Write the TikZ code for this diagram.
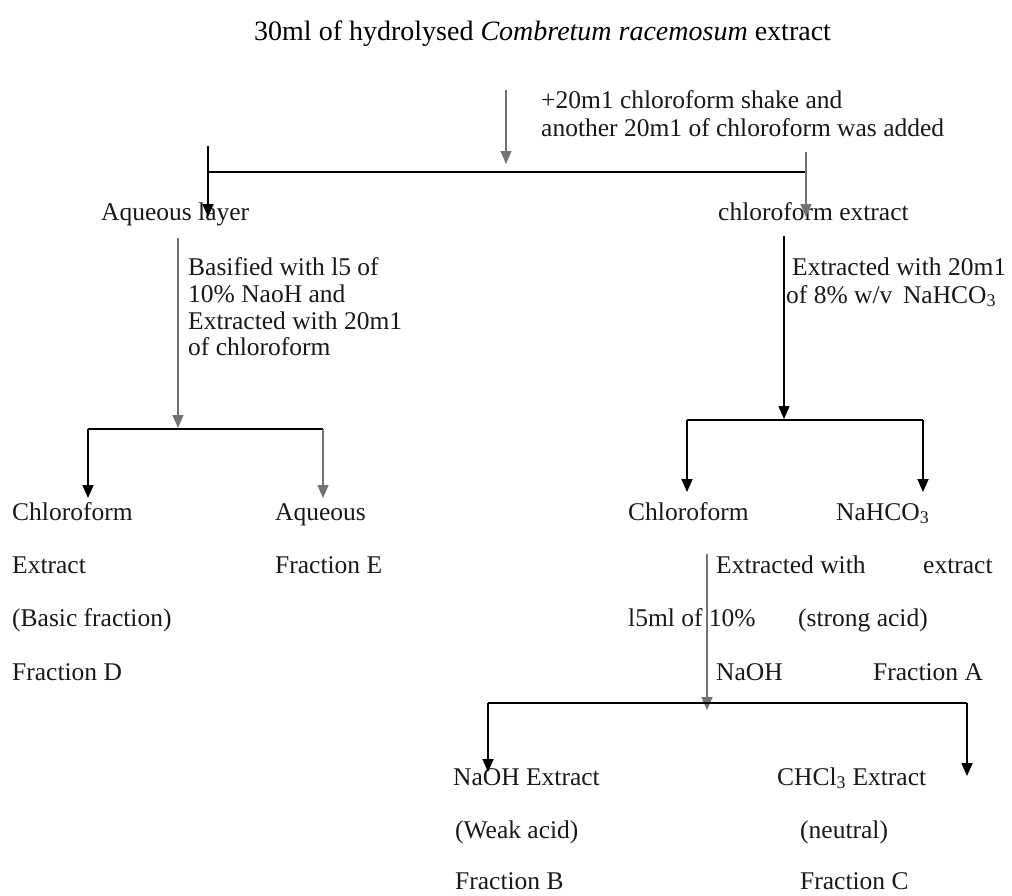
\documentclass[tikz,border=0pt]{standalone}
\usepackage{fontspec}
\setmainfont{Liberation Serif}
\usetikzlibrary{arrows.meta}
\begin{document}
\begin{tikzpicture}[x=1pt,y=-1pt,
  txt/.style={anchor=base west,inner sep=0pt,font=\fontsize{25.5}{28}\selectfont,text=black!90},
  ttl/.style={anchor=base west,inner sep=0pt,font=\fontsize{28}{30}\selectfont,text=black},
  blk/.style={line width=1.7pt,black},
  gry/.style={line width=1.5pt,black!55},
  arr/.style={-{Triangle[width=11pt,length=13pt]}},
]
\useasboundingbox[fill=white] (0,0) rectangle (1012,895);
% texts
\node[ttl] (title) at (254,40) {30ml of hydrolysed \textit{Combretum racemosum} extract};
\node[txt] (add1) at (541,108) {+20m1 chloroform shake and};
\node[txt] (add2) at (541,136) {another 20m1 of chloroform was added};
\node[txt] (aq) at (101,220) {Aqueous layer};
\node[txt] (chl) at (718,220) {chloroform extract};
\node[txt] (bas1) at (188,275) {Basified with l5 of};
\node[txt] (bas2) at (188,302) {10\% NaoH and};
\node[txt] (bas3) at (188,329) {Extracted with 20m1};
\node[txt] (bas4) at (188,355) {of chloroform};
\node[txt] (ex1) at (792,275) {Extracted with 20m1};
\node[txt] (ex2) at (786,303) {of 8\% w/v\, NaHCO\textsubscript{3}};
\node[txt] (cd1) at (12,520) {Chloroform};
\node[txt] (cd2) at (12,573) {Extract};
\node[txt] (cd3) at (12,626) {(Basic fraction)};
\node[txt] (cd4) at (12,680) {Fraction D};
\node[txt] (ae1) at (275,520) {Aqueous};
\node[txt] (ae2) at (275,573) {Fraction E};
\node[txt] (cr) at (628,520) {Chloroform};
\node[txt] (nb1) at (836,520) {NaHCO\textsubscript{3}};
\node[txt] (nb2) at (923,573) {extract};
\node[txt] (nb3) at (798,626) {(strong acid)};
\node[txt] (nb4) at (873,680) {Fraction A};
\node[txt] (nx1) at (716,573) {Extracted with};
\node[txt] (nx2) at (628,626) {l5ml of 10\%};
\node[txt] (nx3) at (716,680) {NaOH};
\node[txt] (fb1) at (453,785) {NaOH Extract};
\node[txt] (fb2) at (455,838) {(Weak acid)};
\node[txt] (fb3) at (455,889) {Fraction B};
\node[txt] (fc1) at (777,785) {CHCl\textsubscript{3} Extract};
\node[txt] (fc2) at (800,838) {(neutral)};
\node[txt] (fc3) at (800,889) {Fraction C};
% junction coordinates
\coordinate (t0) at (506,90);
\coordinate (t1) at (506,164);
\coordinate (h1l) at (208,172);
\coordinate (h1r) at (806,172);
\coordinate (a0) at (208,146);
\coordinate (a1) at (208,217);
\coordinate (c0) at (806,152);
\coordinate (c1) at (806,217);
\coordinate (b0) at (178,238);
\coordinate (b1) at (178,428);
\coordinate (h2l) at (88,429);
\coordinate (h2r) at (323,429);
\coordinate (d1) at (88,498);
\coordinate (e1) at (323,498);
\coordinate (r0) at (784,236);
\coordinate (r1) at (784,419);
\coordinate (h3l) at (687,420);
\coordinate (h3r) at (923,420);
\coordinate (g1) at (687,492);
\coordinate (k1) at (923,492);
\coordinate (s0) at (707,554);
\coordinate (s1) at (707,710);
\coordinate (h4l) at (488,703);
\coordinate (h4r) at (967,703);
\coordinate (w1) at (488,772);
\coordinate (n1) at (967,776);
% connectors
\draw[gry,arr] (t0) -- (t1);
\draw[blk] (h1l) -- (h1r);
\draw[blk,arr] (a0) -- (a1);
\draw[gry,arr] (c0) -- (c1);
\draw[gry,arr] (b0) -- (b1);
\draw[blk] (h2l) -- (h2r);
\draw[blk,arr] (h2l) -- (d1);
\draw[gry,arr] (h2r) -- (e1);
\draw[blk,arr] (r0) -- (r1);
\draw[blk] (h3l) -- (h3r);
\draw[blk,arr] (h3l) -- (g1);
\draw[blk,arr] (h3r) -- (k1);
\draw[gry,arr] (s0) -- (s1);
\draw[blk] (h4l) -- (h4r);
\draw[blk,arr] (h4l) -- (w1);
\draw[blk,arr] (h4r) -- (n1);
\end{tikzpicture}
\end{document}
